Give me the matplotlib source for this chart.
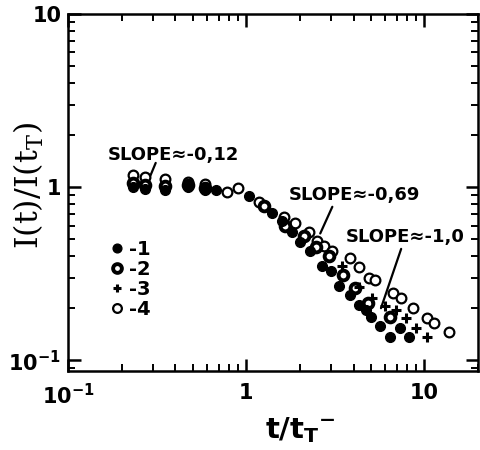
import numpy as np
import matplotlib
matplotlib.use('Agg')
import matplotlib.pyplot as plt
from matplotlib.ticker import LogLocator, NullFormatter, FixedLocator, FixedFormatter

# data
x1 = [0.23, 0.27, 0.35, 0.47, 0.59, 0.68, 1.03, 1.39, 1.58, 1.80, 2.00, 2.28, 2.67, 3.00, 3.33, 3.80, 4.30, 4.70, 5.00, 5.60, 6.40, 7.30, 8.20]
y1 = [1.00, 0.97, 0.96, 1.00, 0.96, 0.96, 0.89, 0.71, 0.64, 0.55, 0.48, 0.43, 0.35, 0.33, 0.27, 0.237, 0.21, 0.195, 0.177, 0.157, 0.136, 0.153, 0.136]
x2 = [0.23, 0.27, 0.35, 0.47, 0.59, 1.25, 1.65, 2.10, 2.45, 2.90, 3.50, 4.10, 4.80, 6.40]
y2 = [1.05, 1.03, 1.02, 1.03, 0.99, 0.78, 0.60, 0.52, 0.45, 0.40, 0.31, 0.26, 0.215, 0.177]
x3 = [3.46, 4.30, 5.10, 6.00, 6.90, 7.90, 9.00, 10.3]
y3 = [0.35, 0.265, 0.228, 0.207, 0.195, 0.175, 0.153, 0.136]
x4 = [0.23, 0.27, 0.35, 0.47, 0.59, 0.78, 0.90, 1.18, 1.62, 1.87, 2.25, 2.50, 2.74, 3.04, 3.80, 4.30, 4.90, 5.30, 6.70, 7.40, 8.60, 10.3, 11.3, 13.7]
y4 = [1.17, 1.14, 1.11, 1.07, 1.04, 0.94, 0.99, 0.82, 0.67, 0.62, 0.55, 0.49, 0.46, 0.43, 0.39, 0.345, 0.30, 0.29, 0.244, 0.228, 0.20, 0.175, 0.164, 0.145]

fig = plt.figure(figsize=(4.8, 4.5), dpi=100)
ax = fig.add_axes([0.142, 0.176, 0.854, 0.793])

ms = 7
ax.plot(x4, y4, 'o', ms=ms, mfc='white', mec='black', mew=1.6, ls='none', label='-4', zorder=2)
ax.plot(x2, y2, 'o', ms=ms, mfc='white', mec='black', mew=2.8, ls='none', label='-2', zorder=3)
ax.plot(x1, y1, 'o', ms=ms, mfc='black', mec='black', ls='none', label='-1', zorder=4)
ax.plot(x3, y3, '+', ms=ms, mec='black', mew=2.2, ls='none', label='-3', zorder=4)

ax.set_xscale('log')
ax.set_yscale('log')
ax.set_xlim(0.1, 20)
ax.set_ylim(0.087, 10)

ax.xaxis.set_major_locator(FixedLocator([0.1, 1, 10]))
ax.xaxis.set_major_formatter(FixedFormatter([r'10$^{\mathregular{-1}}$', '1', '10']))
ax.yaxis.set_major_locator(FixedLocator([0.1, 1, 10]))
ax.yaxis.set_major_formatter(FixedFormatter([r'10$^{\mathregular{-1}}$', '1', '10']))
ax.xaxis.set_minor_locator(LogLocator(base=10, subs=np.arange(2, 10), numticks=20))
ax.yaxis.set_minor_locator(LogLocator(base=10, subs=np.arange(2, 10), numticks=20))
ax.xaxis.set_minor_formatter(NullFormatter())
ax.yaxis.set_minor_formatter(NullFormatter())
ax.tick_params(which='both', direction='in', top=True, right=True)
ax.tick_params(which='major', length=9, width=1.8, labelsize=15)
ax.tick_params(axis='x', which='major', pad=9)
ax.tick_params(axis='y', which='major', pad=5)
ax.tick_params(which='minor', length=5, width=1.4)
for lab in ax.get_xticklabels() + ax.get_yticklabels():
    lab.set_fontweight('bold')
for s in ax.spines.values():
    s.set_linewidth(1.8)

ax.set_xlabel(r't/t$_\mathregular{T}$$^\mathregular{-}$', fontsize=21, fontweight='bold')
ax.xaxis.set_label_coords(0.566, -0.125)
ax.set_ylabel(r'I(t)/I(t$_\mathregular{T}$)', fontsize=23, family='DejaVu Serif')
ax.yaxis.set_label_coords(-0.055, 0.52)

# slope annotations
tkw = dict(fontsize=13, fontweight='bold', family='DejaVu Sans', va='baseline')
lkw = dict(arrowstyle='-', lw=1.6, color='black', shrinkA=0, shrinkB=0)
ax.text(0.166, 1.43, 'SLOPE≈-0,12', **tkw)
ax.annotate('', xy=(0.29, 1.17), xytext=(0.31, 1.38), arrowprops=lkw)
ax.text(1.73, 0.84, 'SLOPE≈-0,69', **tkw)
ax.annotate('', xy=(2.6, 0.54), xytext=(3.04, 0.77), arrowprops=lkw)
ax.text(3.6, 0.48, 'SLOPE≈-1,0', **tkw)
ax.annotate('', xy=(5.7, 0.2), xytext=(7.4, 0.44), arrowprops=lkw)

h, l = ax.get_legend_handles_labels()
order = [2, 1, 3, 0]
ax.legend([h[i] for i in order], [l[i] for i in order], loc='upper left',
          bbox_to_anchor=(0.1, 0.367), frameon=False, handlelength=0.8, handletextpad=0.2,
          labelspacing=0.05, borderaxespad=0, borderpad=0, prop=dict(size=14, weight='bold'),
          markerscale=0.9)

fig.savefig('out.png', dpi=100)
